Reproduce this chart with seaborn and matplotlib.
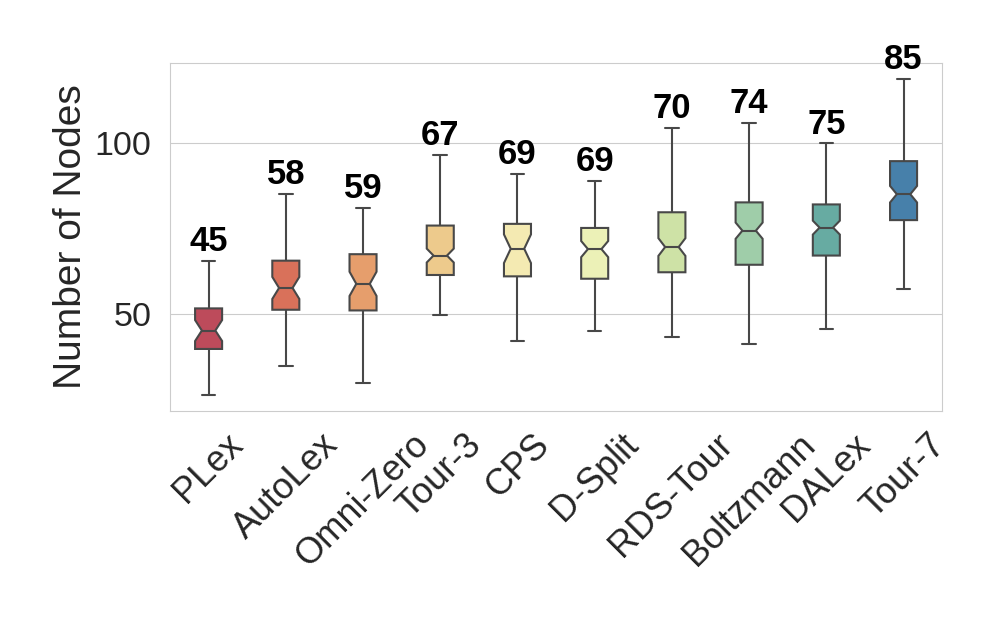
import pandas as pd
import matplotlib
matplotlib.use("Agg")
import matplotlib.pyplot as plt
import seaborn as sns

# values
methods = ['PLex', 'AutoLex', 'Omni-Zero', 'Tour-3', 'CPS', 'D-Split',
           'RDS-Tour', 'Boltzmann', 'DALex', 'Tour-7']
whisker_low = [26.1, 34.6, 29.7, 49.6, 42.1, 45.0, 43.2, 41.1, 45.6, 57.2]
q1 = [39.7, 51.2, 51.0, 61.4, 61.0, 60.3, 62.2, 64.4, 67.1, 77.5]
median = [45.1, 57.6, 58.8, 67.1, 69.1, 69.0, 69.6, 74.4, 75.3, 85.1]
q3 = [51.6, 65.6, 67.5, 75.9, 76.4, 75.2, 79.8, 82.7, 82.1, 94.8]
whisker_high = [65.6, 85.2, 81.1, 96.6, 91.0, 89.1, 104.5, 106.0, 100.0, 119.0]
# half height of the notch (confidence interval around the median)
notch_half = [3.0, 3.2, 3.5, 2.05, 4.1, 2.4, 2.6, 2.4, 2.05, 2.44]

# build a sample per method that reproduces the five-number summary
# (n = 4m+1 points so that the quartiles fall on exact values)
rows = []
for i, name in enumerate(methods):
    iqr = q3[i] - q1[i]
    n = (1.57 * iqr / notch_half[i]) ** 2
    m = max(1, int(round((n - 1) / 4)))
    vals = [whisker_low[i]] + [q1[i]] * m + [median[i]] * m + [q3[i]] * m + [whisker_high[i]] * m
    for v in vals:
        rows.append({'Method': name, 'Nodes': v})
data = pd.DataFrame(rows)

sns.set_style("whitegrid")
plt.rcParams['font.family'] = ['Liberation Sans', 'DejaVu Sans']

fig, ax = plt.subplots(figsize=(9.97, 6.22), dpi=100)
fig.subplots_adjust(left=0.1705, right=0.945, top=0.899, bottom=0.339)

sns.boxplot(data=data, x='Method', y='Nodes', hue='Method', order=methods,
            palette='Spectral', legend=False, notch=True, width=0.35,
            linewidth=1.5, ax=ax)

# median labels above the upper whisker
for i, name in enumerate(methods):
    ax.annotate(f"{median[i]:.0f}", (i, whisker_high[i]), xytext=(0, 2),
                textcoords='offset points', ha='center', va='bottom',
                fontsize=25, fontweight='bold', color='black')

ax.set_xlabel('')
ax.set_ylabel('Number of Nodes', fontsize=28)
ax.set_yticks([50, 100])
ax.tick_params(axis='y', labelsize=24.5, pad=10)
ax.tick_params(axis='x', labelsize=26, pad=8)
plt.xticks(rotation=45)

fig.savefig('out.png', dpi=100)
